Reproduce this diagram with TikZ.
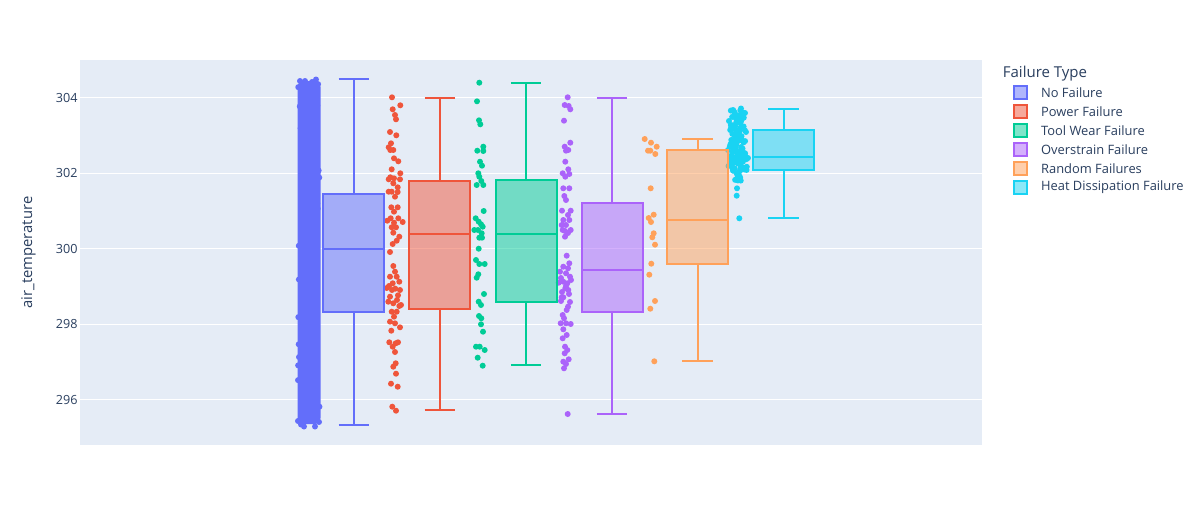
\documentclass[tikz,border=0pt]{standalone}
\usepackage{fontspec}
\setmainfont{Open Sans}
\definecolor{bgc}{HTML}{E5ECF6}
\definecolor{txt}{HTML}{2A3F5F}
\definecolor{cNF}{HTML}{636EFA}
\definecolor{cPF}{HTML}{EF553B}
\definecolor{cTW}{HTML}{00CC96}
\definecolor{cOS}{HTML}{AB63FA}
\definecolor{cRF}{HTML}{FFA15A}
\definecolor{cHD}{HTML}{19D3F3}
\newcommand\mybox[7]{%
  \draw[whisk=#1] (#2,#4) -- (#2,#3) ({#2-15.25},#3) -- ({#2+15.25},#3);
  \draw[whisk=#1] (#2,#6) -- (#2,#7) ({#2-15.25},#7) -- ({#2+15.25},#7);
  \filldraw[boxst=#1] ({#2-30.5},#4) rectangle ({#2+30.5},#6);
  \draw[whisk=#1] ({#2-30.5},#5) -- ({#2+30.5},#5);
}
\newcommand\mypts[2]{%
  \foreach \px/\py in {#2} {\fill[#1] (\px,\py) circle[radius=1.5pt];}
}
\newcommand\myrnd[6]{% color, n, x0, w, y0, h
  \foreach \i in {1,...,#2} {%
    \pgfmathsetmacro\px{#3+rnd*#4}%
    \pgfmathsetmacro\py{#5+rnd*#6}%
    \fill[#1] (\px,\py) circle[radius=1.5pt];
  }
}
\begin{document}
\begin{tikzpicture}[x=0.5pt,y=-0.5pt,
  gridl/.style={draw=white,line width=0.5pt},
  tick/.style={anchor=east,text=txt,font=\fontsize{6.3}{7}\selectfont,inner sep=0pt},
  axtitle/.style={text=txt,font=\fontsize{7.4}{8}\selectfont,inner sep=0pt,rotate=90},
  legtitle/.style={anchor=west,text=txt,font=\fontsize{7.5}{8}\selectfont,inner sep=0pt},
  legitem/.style={anchor=west,text=txt,font=\fontsize{6.45}{7}\selectfont,inner sep=0pt},
  boxst/.style={draw=#1,fill=#1,fill opacity=0.5,line width=1pt},
  whisk/.style={draw=#1,line width=1pt},
  swatch/.style={draw=#1,fill=#1,fill opacity=0.5,line width=1pt}]
\useasboundingbox (0,0) rectangle (1200,525);
\fill[white] (0,0) rectangle (1200,525);
\fill[bgc] (80,60) rectangle (982,445);
% grid
\foreach \gy in {97.7,173.2,248.7,324.2,399.7} {\draw[gridl] (80,\gy) -- (982,\gy);}
% tick labels
\node[tick] (t304) at (78,97.7) {304};
\node[tick] (t302) at (78,173.2) {302};
\node[tick] (t300) at (78,248.7) {300};
\node[tick] (t298) at (78,324.2) {298};
\node[tick] (t296) at (78,399.7) {296};
\node[axtitle] (ytitle) at (28.5,252.5) {air\_temperature};
% No Failure point column
\fill[cNF, rounded corners=3pt] (297.5,81) rectangle (320.5,424);
\pgfmathsetseed{11}
\myrnd{cNF}{90}{298}{22}{82}{341}
\mypts{cNF}{316/79.5, 300/81, 305/81, 312/82, 301/424.5, 304/426.5, 315/426.5, 298/421, 319/422}
% Power Failure points
\mypts{cPF}{392/97.3, 400.3/105.3, 392.7/109.3, 395/115, 396/119.3, 390/132, 396.3/135.3, 391/143.3, 388.7/147.3, 390.3/150, 393.3/150, 394/158.3, 398.3/161.3, 391.7/169.3, 400.3/173.3, 390.3/177.3, 394/178.3, 400/179.3, 388.7/179.3, 393.3/183.3, 397.7/187.3, 391.7/191.7, 388.7/191.7, 397.7/192, 395/196.7, 391.3/207.3, 397.7/207.3, 394/211.7, 387.3/220.7, 390.7/218.3, 398.3/218.3, 402.7/222, 394/222.7, 391.7/227.3, 396/227.3, 393.3/232.7, 399.3/236.7, 396.7/240.7, 392.7/244, 390/252, 393.3/266, 395/271.7, 390/276.7, 396.7/276.7, 399.3/281.7, 392.7/283.3, 386.7/288, 395.3/288.7, 400/290, 390/296.7, 398/295.3, 388.3/301.7, 393.3/303.3, 399.3/306, 391.7/311.7, 396.7/311.7, 394/316.7, 390/321.7, 395/323.3, 391.3/330.7, 400/327.3, 389.3/342.3, 395.7/343.3, 398/342.3, 392.7/346.7, 395/352, 395.7/363.3, 393.3/366.7, 396/373.7, 391/383.7, 397.7/386.7, 392.3/406.7, 396/410.7, 389/286, 392/290, 397/300, 401/305}
% Tool Wear points
\mypts{cTW}{479.3/82.7, 477/101.3, 479/120.3, 480.3/124.3, 483.3/146.7, 477.3/150.7, 483.3/151, 480/161.7, 482/165.7, 478.3/173.3, 479.3/176.7, 481.3/181, 483.3/185, 476.7/185, 483.7/211, 475.7/218.3, 478.7/221.7, 481/224.3, 482.7/226.7, 474.3/230, 478/230, 481.7/233.3, 479.3/237.7, 482/237.7, 478.7/248.7, 476/260, 479.3/264, 484.7/264, 478.3/274.3, 476.7/277.7, 484/294, 478.7/301.7, 481/305, 479/316, 481/324.3, 481.3/318.3, 483/331.7, 476/346.7, 479.7/346.7, 484.7/350, 477.7/357.7, 482.7/365.7}
% Overstrain points
\mypts{cOS}{567.7/97.3, 564.7/105, 568.7/106, 570.3/109.3, 564/120.7, 570.3/142.7, 564.7/146.7, 568.3/150, 566/150.7, 565.3/161.7, 568.3/169.3, 562.7/173.3, 569.3/174, 565.3/176.7, 563.3/188.3, 569.3/188.3, 564.3/196, 566/200, 570.7/210.7, 562/210.7, 568/215, 563.3/220, 569.3/220, 561.7/225, 566/225, 570.7/230, 562.7/230, 565/236.7, 566.7/255.7, 569.3/263.3, 563.3/266.7, 568/268.3, 560/271.7, 566/273.3, 570/276.7, 558.7/282.7, 563.3/281.7, 567.3/283.3, 568.3/290, 565.3/288.3, 563.3/297.3, 561.7/297.3, 568/306.7, 566.7/310, 562.7/315, 564/318.3, 560.7/323.3, 566/323.3, 570.7/324, 563.3/329.3, 566.7/335, 562.7/338.3, 565/346.7, 567.3/350, 564.7/353.3, 568.7/359.3, 563.3/361.7, 566/364, 564/368.3, 567.7/414, 561/278, 571/280, 566/286, 562/292, 569/294, 561/301, 570/302, 565/231, 568/233}
% Random Failures points
\mypts{cRF}{644.7/139, 651/142.7, 656.7/146.7, 648/150.7, 650.3/150.7, 655.3/154, 650.7/188.3, 653.7/214.7, 648.7/218, 651/222, 653.7/233.3, 652.3/237.3, 655/244.7, 651.3/263.7, 649.3/274.7, 655/301, 650.3/308.7, 654.3/361.3}
% Heat Dissipation points
\pgfmathsetseed{5}
\myrnd{cHD}{45}{730}{15}{109}{31}
\myrnd{cHD}{65}{729}{18}{140}{31}
\myrnd{cHD}{12}{733}{10}{169}{12}
\mypts{cHD}{737/188.3, 736.7/195.7, 739.3/218.3, 733/110, 741/108.5, 745/113, 729/121, 746/132, 728/150, 748/158, 728.5/166, 746.5/170}
% boxes
\mybox{cNF}{353.8}{79}{193.7}{249}{312.3}{425.3}
\mybox{cPF}{439.9}{97.7}{180.7}{233.7}{309}{410.3}
\mybox{cTW}{526}{82.7}{179.7}{233.7}{302.3}{365.3}
\mybox{cOS}{612.1}{97.7}{203.3}{269.7}{312.3}{414}
\mybox{cRF}{697.5}{139.3}{150.3}{220.3}{264}{361.3}
\mybox{cHD}{783.6}{109.3}{129.7}{156.7}{169.7}{218}
% legend
\node[legtitle] (lt) at (1002.5,73.3) {Failure Type};
\filldraw[swatch=cNF] (1013.5,86) rectangle (1026.5,99);
\filldraw[swatch=cPF] (1013.5,105) rectangle (1026.5,118);
\filldraw[swatch=cTW] (1013.5,124) rectangle (1026.5,137);
\filldraw[swatch=cOS] (1013.5,143) rectangle (1026.5,156);
\filldraw[swatch=cRF] (1013.5,162) rectangle (1026.5,175);
\filldraw[swatch=cHD] (1013.5,181) rectangle (1026.5,194);
\node[legitem] (l1) at (1040.7,92.5) {No Failure};
\node[legitem] (l2) at (1040.7,111.5) {Power Failure};
\node[legitem] (l3) at (1040.7,130.5) {Tool Wear Failure};
\node[legitem] (l4) at (1040.7,149.5) {Overstrain Failure};
\node[legitem] (l5) at (1040.7,168.5) {Random Failures};
\node[legitem] (l6) at (1040.7,187.5) {Heat Dissipation Failure};
\end{tikzpicture}
\end{document}
